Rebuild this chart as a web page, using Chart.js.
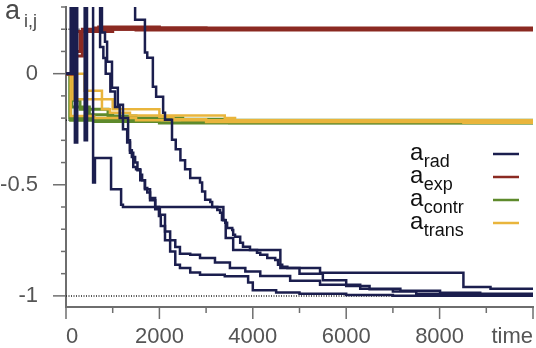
<!DOCTYPE html>
<html>
<head>
<meta charset="utf-8">
<script src="https://cdn.jsdelivr.net/npm/chart.js@4.4.0/dist/chart.umd.min.js"></script>
<style>
  html, body { margin: 0; padding: 0; background: #fff; }
</style>
</head>
<body>
<canvas id="chart-a" width="536" height="348"></canvas>
<script>
// runs: [time, value], value holds until the next point
const rad1 = [[0, 0], [130, 1.5], [580, -0.49], [620, -0.38], [965, -0.52], [1180, -0.59], [1220, -0.6],
  [3370, -0.66], [3420, -0.74], [3580, -0.793], [4590, -0.874], [5440, -0.896], [8510, -0.96], [9090, -0.968], [10000, -0.968]];
const rad2 = [[0, 0], [170, 1.5], [400, -0.3], [450, 1.5], [770, 0.185], [835, 0.144], [880, 0.054], [985, -0.063],
  [1110, -0.14], [1220, -0.25], [1310, -0.31], [1370, -0.356], [1440, -0.42], [1500, -0.43], [1590, -0.48], [1690, -0.52],
  [1800, -0.57], [1910, -0.61], [2010, -0.635], [2120, -0.71], [2230, -0.75], [2340, -0.78], [2440, -0.81], [2660, -0.815],
  [2870, -0.83], [3190, -0.85], [3510, -0.875], [3840, -0.89], [4160, -0.91], [4800, -0.932], [5440, -0.95], [6300, -0.968],
  [7160, -0.977], [8010, -0.986], [8870, -0.99], [10000, -0.993]];
const rad3 = [[0, 0], [210, 1.5], [730, 0.12], [800, 0.07], [850, 0.0], [950, -0.08], [1050, -0.15], [1150, -0.2],
  [1330, -0.3], [1370, -0.345], [1410, -0.375], [1480, -0.4], [1530, -0.435], [1590, -0.455], [1630, -0.48], [1690, -0.515],
  [1740, -0.535], [1800, -0.56], [1910, -0.6], [1990, -0.64], [2030, -0.685], [2120, -0.75], [2230, -0.8], [2340, -0.86],
  [2440, -0.875], [2660, -0.895], [2870, -0.905], [3400, -0.912], [3900, -0.94], [4000, -0.975], [4500, -0.985],
  [5000, -0.99], [6000, -0.996], [7000, -0.999], [10000, -1]];
const rad4 = [[0, 0], [100, 1.5], [190, -0.31], [240, 1.5], [1480, 0.243], [1690, 0.095], [1740, 0.072], [1860, -0.059],
  [1930, -0.104], [2080, -0.176], [2120, -0.207], [2270, -0.297], [2350, -0.34], [2450, -0.39], [2550, -0.43], [2660, -0.47],
  [2870, -0.49], [2915, -0.53], [2980, -0.567], [3090, -0.577], [3130, -0.6], [3240, -0.613], [3300, -0.626], [3340, -0.658],
  [3410, -0.671], [3450, -0.694], [3560, -0.703], [3580, -0.725], [3620, -0.734], [3730, -0.761], [3790, -0.779],
  [3940, -0.793], [4090, -0.806], [4160, -0.815], [4310, -0.829], [4480, -0.838], [4540, -0.86], [4630, -0.869],
  [4740, -0.874], [5000, -0.9], [5500, -0.93], [6000, -0.955], [6500, -0.97], [7000, -0.98], [7500, -0.99], [8500, -0.996],
  [10000, -0.998]];

const exp1 = [[0, 0], [130, 0.19], [1000, 0.2], [10000, 0.2]];
const exp2 = [[0, 0], [140, 0.1], [300, 0.19], [600, 0.205], [3000, 0.203], [10000, 0.203]];
const exp3 = [[0, 0], [160, 0.19], [700, 0.21], [2000, 0.206], [10000, 0.206]];
const exp4 = [[0, 0], [200, 0.08], [350, 0.2], [1500, 0.197], [10000, 0.197]];

const contr1 = [[0, 0], [80, -0.2], [600, -0.215], [2000, -0.222], [10000, -0.222]];
const contr2 = [[0, 0], [120, -0.15], [500, -0.185], [1000, -0.2], [2500, -0.22], [10000, -0.222]];
const contr3 = [[0, 0], [150, -0.12], [300, -0.16], [900, -0.19], [1500, -0.205], [3500, -0.221], [10000, -0.222]];
const contr4 = [[0, 0], [100, -0.21], [10000, -0.223]];

const trans1 = [[0, 0], [150, -0.115], [770, -0.16], [940, -0.176], [1370, -0.188], [3400, -0.2], [3620, -0.21],
  [4590, -0.216], [8510, -0.221], [10000, -0.221]];
const trans2 = [[0, 0], [400, -0.077], [770, -0.115], [1000, -0.16], [2000, -0.195], [2300, -0.205], [3000, -0.218], [10000, -0.22]];
const trans3 = [[0, 0], [100, -0.19], [600, -0.2], [1500, -0.21], [10000, -0.22]];

const refLevels = [0.2, -0.21, -1];

const xTickLabels = [0, 2000, 4000, 6000, 8000];
const yTickLabels = [0, -0.5, -1];
const seriesNames = ['rad', 'exp', 'contr', 'trans'];
const seriesColors = ['#1b1e4e', '#8b2a22', '#5e8a2c', '#e9b53c'];

const font = 'Liberation Sans, Arial, sans-serif';
const axisGrey = '#6e6e6e';

const toPts = run => run.map(p => ({ x: p[0], y: p[1] }));

function runSet(runs, color, width, order) {
  return runs.map(r => ({
    data: toPts(r), borderColor: color, borderWidth: width, stepped: true,
    pointRadius: 0, fill: false, order: order
  }));
}

const datasets = [].concat(
  runSet([rad1, rad2, rad3, rad4], seriesColors[0], 2.5, 0),
  runSet([exp1, exp2, exp3, exp4], seriesColors[1], 3, 1),
  runSet([trans1, trans2, trans3], seriesColors[3], 2.5, 2),
  runSet([contr1, contr2, contr3, contr4], seriesColors[2], 3, 3),
  refLevels.map(v => ({
    data: [{ x: 0, y: v }, { x: 10000, y: v }], borderColor: '#222', borderWidth: 1.5,
    borderDash: [1, 1.5], pointRadius: 0, fill: false, order: 4
  }))
);

// minor/major tick marks, y title and legend with subscripts
const decor = {
  id: 'decor',
  afterDraw(chart) {
    const ctx = chart.ctx;
    const xs = chart.scales.x, ys = chart.scales.y;
    const area = chart.chartArea;
    ctx.save();
    ctx.strokeStyle = axisGrey;
    ctx.lineWidth = 1.5;
    for (let t = 0; t <= 10000; t += 1000) {
      const px = xs.getPixelForValue(t);
      const len = t % 2000 === 0 ? 12 : 6;
      ctx.beginPath(); ctx.moveTo(px, area.bottom); ctx.lineTo(px, area.bottom + len); ctx.stroke();
    }
    for (let i = -10; i <= 3; i++) {
      const v = i / 10;
      const py = ys.getPixelForValue(v);
      const len = i % 5 === 0 ? 13 : 5;
      ctx.beginPath(); ctx.moveTo(area.left, py); ctx.lineTo(area.left - len, py); ctx.stroke();
    }

    ctx.fillStyle = '#4a4a4a';
    ctx.textBaseline = 'alphabetic';
    ctx.textAlign = 'left';
    ctx.font = '27px ' + font;
    ctx.fillText('a', 5, 19);
    ctx.font = '18px ' + font;
    ctx.fillText('i,j', 24, 27);

    ctx.fillStyle = '#111';
    seriesNames.forEach((name, i) => {
      const base = 160 + 23 * i;
      ctx.font = '24px ' + font;
      ctx.fillText('a', 410, base);
      const w = ctx.measureText('a').width;
      ctx.font = '18px ' + font;
      ctx.fillText(name, 410 + w + 0.5, base + 7);
      ctx.strokeStyle = seriesColors[i];
      ctx.lineWidth = 2.5;
      ctx.beginPath(); ctx.moveTo(493, base - 6); ctx.lineTo(519, base - 6); ctx.stroke();
    });
    ctx.restore();
  }
};

new Chart(document.getElementById('chart-a'), {
  type: 'line',
  data: { datasets: datasets },
  options: {
    responsive: false,
    animation: false,
    layout: { padding: { left: 0, right: 3, top: 7, bottom: 0 } },
    plugins: { legend: { display: false }, tooltip: { enabled: false } },
    scales: {
      x: {
        type: 'linear', min: 0, max: 10000,
        grid: { display: false, drawTicks: false },
        border: { display: true, color: axisGrey, width: 2 },
        ticks: {
          stepSize: 1000, autoSkip: false, maxRotation: 0, align: 'inner', padding: 17,
          color: '#555', font: { family: font, size: 22 },
          callback: v => v === 10000 ? 'time' : (xTickLabels.includes(v) ? String(v) : '')
        },
        afterFit: s => { s.height = 41; s.paddingLeft = 0; s.paddingRight = 0; }
      },
      y: {
        type: 'linear', min: -1.05, max: 0.3,
        grid: { display: false, drawTicks: false },
        border: { display: true, color: axisGrey, width: 2 },
        ticks: {
          stepSize: 0.1, autoSkip: false, includeBounds: false, padding: 28,
          color: '#555', font: { family: font, size: 22 },
          callback: v => {
            const hit = yTickLabels.find(t => Math.abs(t - v) < 1e-6);
            return hit === undefined ? '' : String(hit);
          }
        },
        afterFit: s => { s.width = 66; s.paddingTop = 0; s.paddingBottom = 0; }
      }
    }
  },
  plugins: [decor]
});
</script>
</body>
</html>
